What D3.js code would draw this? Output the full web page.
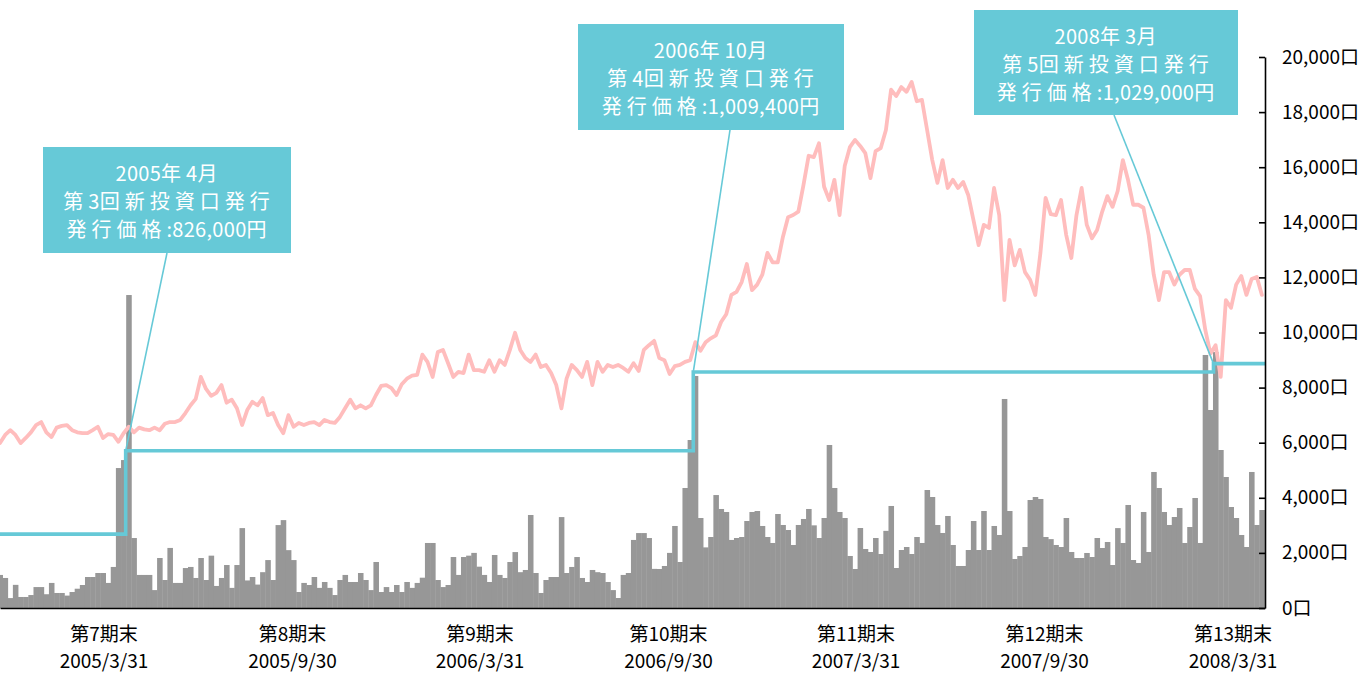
<!DOCTYPE html>
<html>
<head>
<meta charset="utf-8">
<script src="https://cdn.jsdelivr.net/npm/d3@7"></script>
<style>
  html, body { margin: 0; padding: 0; background: #ffffff; }
  svg { display: block; font-family: "Noto Sans CJK JP", "Noto Sans", sans-serif; }
</style>
</head>
<body>
<svg id="chart" width="1365" height="673"></svg>
<script>
// ---------------- DATA ----------------
// sampling: one observation every 5 calendar days from the start date
const startDate = new Date(2004, 11, 20);
const endDate = new Date(2008, 4, 1);
const stepDays = 5;

// 投資口価格 (千円)
const price = [
  844,863,874,863,844,856,869,886,893,869,
  858,880,884,886,874,869,867,867,874,882,
  856,865,863,847,867,882,869,880,876,874,
  880,874,889,893,893,898,914,932,947,998,
  970,954,961,979,938,945,925,886,921,940,
  932,949,909,914,886,867,909,882,891,886,
  891,893,886,898,893,891,905,925,945,925,
  932,925,932,956,977,979,972,956,981,994,
  1001,1003,1050,1033,998,1056,1061,1030,998,1010,
  1007,1050,1014,1014,1010,1037,1010,1037,1026,1061,
  1101,1061,1042,1033,1050,1021,1026,1007,979,925,
  994,1026,1014,998,1033,979,1033,1010,1026,1021,
  1026,1019,1010,1030,1012,1061,1072,1082,1042,1037,
  1005,1023,1026,1033,1037,1079,1059,1079,1088,1095,
  1126,1144,1189,1196,1219,1261,1200,1213,1236,1287,
  1265,1265,1324,1370,1375,1383,1445,1513,1510,1542,
  1441,1410,1457,1375,1489,1533,1550,1536,1519,1461,
  1524,1531,1573,1667,1652,1673,1662,1685,1640,1643,
  1573,1503,1450,1503,1438,1457,1438,1452,1421,1363,
  1305,1352,1345,1438,1375,1177,1317,1258,1294,1242,
  1224,1189,1287,1415,1377,1375,1410,1329,1275,1375,
  1438,1352,1321,1340,1383,1419,1394,1431,1503,1457,
  1399,1399,1392,1329,1236,1177,1242,1242,1213,1236,
  1247,1247,1203,1186,1108,1052,1072,998,1177,1159,
  1213,1233,1189,1226,1231,1189
];

// 出来高 (口)
const volume = [
  1200,1090,360,840,400,400,470,760,760,500,
  910,545,545,450,580,700,835,1125,1125,1270,
  1270,910,1490,5080,5370,11360,2540,1200,1200,1200,
  650,1815,1016,2180,910,910,1450,1490,1090,1815,
  1016,1900,800,1090,1560,730,1560,2900,1000,1125,
  850,1300,1740,1016,3010,3190,2100,1740,580,910,
  835,1125,730,944,730,470,1016,1200,944,944,
  1270,1016,650,1670,580,760,580,835,580,944,
  730,910,1100,2360,2360,1016,760,835,1850,1200,
  1850,1900,2000,1500,1200,944,1924,1200,1090,1670,
  2030,1300,1380,3376,1270,545,1016,1125,1125,3300,
  1270,1490,1850,1090,944,1380,1300,1270,944,650,
  363,1200,1270,2470,2720,2720,2540,1420,1416,1525,
  2000,2977,1670,4356,6098,8422,3267,2200,2577,4100,
  3594,3485,2470,2541,2577,3158,3485,3521,2977,2577,
  2360,3412,3013,2831,2287,3013,3231,3594,3000,2541,
  3267,5917,4356,3485,3267,1888,1416,2904,2142,2033,
  2541,1960,2800,3703,1452,2105,2214,1960,2577,2360,
  4283,4029,3013,2723,3340,2287,1525,1525,2105,3158,
  2105,3521,2105,2977,2650,7587,3521,1779,1888,2214,
  3920,4029,3957,2577,2500,2287,2214,3267,2033,1815,
  1815,1997,1851,2541,2178,2396,1561,2900,2360,3739,
  1742,1634,3485,2033,4937,4356,3485,3013,3303,3630,
  2360,2940,3993,2360,9184,7187,9293,5735,4755,3666,
  3267,2650,2214,4937,3013,3557
];

// 発行価格 (千円) step series
const issueDates = [new Date(2004, 11, 20), new Date(2005, 3, 21), new Date(2006, 9, 24), new Date(2008, 2, 12)];
const issuePrices = [632, 826, 1009.4, 1029];

// x-axis period labels
const periodLabels = ["第7期末", "第8期末", "第9期末", "第10期末", "第11期末", "第12期末", "第13期末"];
const periodDates = [
  new Date(2005, 2, 31), new Date(2005, 8, 30), new Date(2006, 2, 31), new Date(2006, 8, 30),
  new Date(2007, 2, 31), new Date(2007, 8, 30), new Date(2008, 2, 31)
];

// right axis ticks (口)
const volumeTicks = [0, 2000, 4000, 6000, 8000, 10000, 12000, 14000, 16000, 18000, 20000];

// annotations
const noteTitles = ["2005年4月", "2006年10月", "2008年3月"];
const noteIssues = ["第3回新投資口発行", "第4回新投資口発行", "第5回新投資口発行"];
const notePrices = ["発行価格:826,000円", "発行価格:1,009,400円", "発行価格:1,029,000円"];

// ---------------- LAYOUT ----------------
const W = 1365, H = 673;
const plotLeft = 0, plotRight = 1265, plotTop = 57, plotBottom = 608;
const noteBoxes = [
  { x: 43, y: 147, w: 248, h: 106, lx: 167 },
  { x: 578, y: 24, w: 266, h: 106, lx: 730 },
  { x: 974, y: 10, w: 264, h: 105, lx: 1114 }
];
const C_PINK = "#ffbdbd", C_GRAY = "#979797", C_TEAL = "#66c9d7";

const svg = d3.select("#chart");
svg.append("rect").attr("width", W).attr("height", H).attr("fill", "#fff");

const x = d3.scaleTime().domain([startDate, endDate]).range([plotLeft, plotRight]);
const yVol = d3.scaleLinear().domain([0, 20000]).range([plotBottom, plotTop]);
const yPrice = d3.scaleLinear().domain([460, 1743]).range([plotBottom, plotTop]);

const sampleDates = price.map((_, i) => d3.timeDay.offset(startDate, i * stepDays));
const rows = sampleDates.map((d, i) => ({ date: d, price: price[i], volume: volume[i] }));

svg.append("clipPath").attr("id", "plotclip")
  .append("rect").attr("x", plotLeft).attr("y", 0).attr("width", plotRight - plotLeft).attr("height", plotBottom);

// volume bars
const bw = x(d3.timeDay.offset(startDate, stepDays)) - x(startDate);
svg.append("g").attr("clip-path", "url(#plotclip)")
  .selectAll("rect").data(rows).join("rect")
  .attr("x", d => x(d.date) - bw / 2)
  .attr("width", bw + 0.4)
  .attr("y", d => yVol(d.volume))
  .attr("height", d => yVol(0) - yVol(d.volume))
  .attr("fill", C_GRAY);

// price line
svg.append("path").datum(rows)
  .attr("clip-path", "url(#plotclip)")
  .attr("fill", "none")
  .attr("stroke", C_PINK)
  .attr("stroke-width", 3.8)
  .attr("stroke-linejoin", "round")
  .attr("stroke-linecap", "round")
  .attr("d", d3.line().x(d => x(d.date)).y(d => yPrice(d.price)));

// issue price step line
const issueRows = issueDates.map((d, i) => ({ date: d, p: issuePrices[i] }));
issueRows.push({ date: endDate, p: issuePrices[issuePrices.length - 1] });
svg.append("path").datum(issueRows)
  .attr("fill", "none")
  .attr("stroke", C_TEAL)
  .attr("stroke-width", 3.6)
  .attr("d", d3.line().curve(d3.curveStepAfter).x(d => x(d.date)).y(d => yPrice(d.p)));

// x axis baseline
svg.append("g").attr("transform", `translate(0,${plotBottom})`)
  .call(d3.axisBottom(x).tickValues([]).tickSizeOuter(0))
  .call(g => g.select(".domain").attr("stroke", "#000").attr("stroke-width", 1.6));

// right axis
const yAxis = svg.append("g").attr("transform", `translate(${plotRight},0)`)
  .call(d3.axisRight(yVol).tickValues(volumeTicks).tickSize(-6).tickSizeOuter(0).tickPadding(17)
    .tickFormat(d => d3.format(",")(d) + "口"));
yAxis.select(".domain").attr("stroke", "#000").attr("stroke-width", 1.6);
yAxis.selectAll(".tick line").attr("stroke", "#000").attr("stroke-width", 1.6);
yAxis.selectAll(".tick text")
  .attr("font-family", "'Noto Sans CJK JP', sans-serif")
  .attr("font-size", 19).attr("fill", "#000");

// x labels
const fmt = d3.timeFormat("%Y/%-m/%-d");
const xl = svg.append("g").attr("font-size", 19).attr("fill", "#000").attr("text-anchor", "middle");
periodDates.forEach((d, i) => {
  xl.append("text").attr("x", x(d)).attr("y", 632).attr("dominant-baseline", "central").text(periodLabels[i]);
  xl.append("text").attr("x", x(d)).attr("y", 659).attr("dominant-baseline", "central").text(fmt(d));
});

// annotations
function addRuns(t, str) {
  const runs = str.match(/[\u3000-\u9fff\uff00-\uffef]+|[^\u3000-\u9fff\uff00-\uffef]+/g);
  runs.forEach(r => {
    t.append("tspan").text(r)
      .attr("letter-spacing", /[\u3000-\u9fff\uff00-\uffef]/.test(r) ? 5 : 0.3);
  });
}
const notes = svg.append("g");
noteBoxes.forEach((b, k) => {
  const tx = x(issueDates[k + 1]), ty = yPrice(issuePrices[k + 1]);
  notes.append("line")
    .attr("x1", b.lx).attr("y1", b.y + b.h)
    .attr("x2", tx).attr("y2", ty)
    .attr("stroke", C_TEAL).attr("stroke-width", 1.6);
  notes.append("rect").attr("x", b.x).attr("y", b.y).attr("width", b.w).attr("height", b.h).attr("fill", C_TEAL);
  const lines = [noteTitles[k], noteIssues[k], notePrices[k]];
  lines.forEach((s, j) => {
    const t = notes.append("text")
      .attr("x", b.x + b.w / 2 + 2)
      .attr("y", b.y + b.h / 2 + (j - 1) * 28)
      .attr("dominant-baseline", "central")
      .attr("text-anchor", "middle")
      .attr("font-size", 20)
      .attr("fill", "#fff");
    addRuns(t, s);
  });
});
</script>
</body>
</html>
